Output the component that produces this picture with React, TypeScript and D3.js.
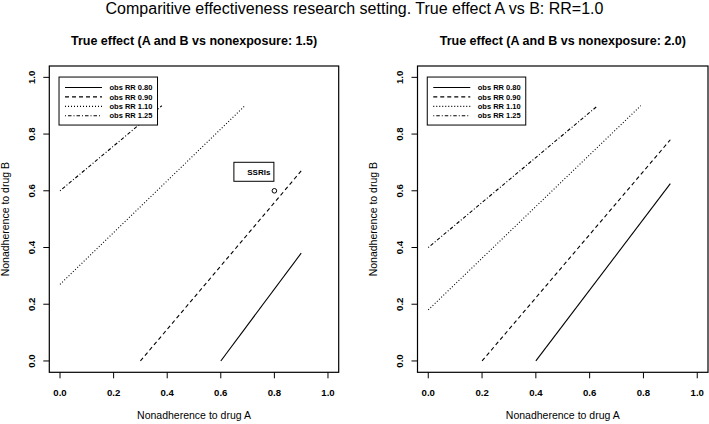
import React from "react";
import * as d3 from "d3";

const mainTitle = "Comparitive effectiveness research setting. True effect A vs B: RR=1.0";
const panelTitles = [
  "True effect (A and B vs nonexposure: 1.5)",
  "True effect (A and B vs nonexposure: 2.0)",
];
const xLabel = "Nonadherence to drug A";
const yLabel = "Nonadherence to drug B";
const seriesLabels = ["obs RR 0.80", "obs RR 0.90", "obs RR 1.10", "obs RR 1.25"];
const tickValues = [0, 0.2, 0.4, 0.6, 0.8, 1.0];

// Panel 1 (true effect 1.5): start/end x and y for each observed-RR contour
const p1X = [[0.6, 0.9], [0.3, 0.9], [0.0, 0.69], [0.0, 0.38]];
const p1Y = [[0.0, 0.38], [0.0, 0.67], [0.27, 0.9], [0.6, 0.9]];
// Panel 2 (true effect 2.0)
const p2X = [[0.4, 0.9], [0.2, 0.9], [0.0, 0.79], [0.0, 0.63]];
const p2Y = [[0.0, 0.625], [0.0, 0.78], [0.18, 0.9], [0.4, 0.9]];

// annotated point (panel 1)
const pointLabel = "SSRIs";
const pointX = 0.8;
const pointY = 0.6;

const dashes = [null, "4,3", "1,2", "1,2,3.5,2"];
const FONT = "'Liberation Sans', Arial, Helvetica, sans-serif";

type PanelProps = {
  left: number;
  right: number;
  title: string;
  xs: number[][];
  ys: number[][];
  annotate?: boolean;
};

function Panel({ left, right, title, xs, ys, annotate }: PanelProps) {
  const top = 66;
  const bottom = 372.3;
  const x = d3.scaleLinear().domain([-0.04, 1.04]).range([left, right]);
  const y = d3.scaleLinear().domain([-0.04, 1.04]).range([bottom, top]);
  const line = d3
    .line<[number, number]>()
    .x((d) => x(d[0]))
    .y((d) => y(d[1]));
  const cx = (left + right) / 2;
  const cy = (top + bottom) / 2;
  const legL = x(0) - 1;
  const legT = y(1) - 0.3;
  const legW = 98.5;
  const legH = 48;
  const rowY = (i: number) => legT + 10.4 + i * 9.45;
  return (
    <g>
      <text x={cx} y={45} textAnchor="middle" fontFamily={FONT} fontWeight="bold" fontSize={12.5}>
        {title}
      </text>
      {xs.map((xv, i) => (
        <path
          key={i}
          d={line(xv.map((v, j) => [v, ys[i][j]] as [number, number])) || ""}
          fill="none"
          stroke="#000"
          strokeWidth={1.1}
          strokeDasharray={dashes[i] || undefined}
        />
      ))}
      {annotate && (
        <g>
          <circle cx={x(pointX)} cy={y(pointY)} r={2.3} fill="none" stroke="#000" strokeWidth={1} />
          <rect
            x={x(pointX) - 40.5}
            y={y(pointY) - 28.5}
            width={40}
            height={19}
            fill="#fff"
            stroke="#000"
            strokeWidth={1}
          />
          <text
            x={x(pointX) - 4}
            y={y(pointY) - 16}
            textAnchor="end"
            fontFamily={FONT}
            fontWeight="bold"
            fontSize={8}
          >
            {pointLabel}
          </text>
        </g>
      )}
      <rect x={legL} y={legT} width={legW} height={legH} fill="#fff" stroke="#000" strokeWidth={1} />
      {seriesLabels.map((s, i) => (
        <g key={s}>
          <line
            x1={legL + 6}
            x2={legL + 43}
            y1={rowY(i)}
            y2={rowY(i)}
            stroke="#000"
            strokeWidth={1.1}
            strokeDasharray={dashes[i] || undefined}
          />
          <text x={legL + 50.5} y={rowY(i) + 2.7} fontFamily={FONT} fontWeight="bold" fontSize={7.5}>
            {s}
          </text>
        </g>
      ))}
      <rect x={left} y={top} width={right - left} height={bottom - top} fill="none" stroke="#000" strokeWidth={1.2} />
      {tickValues.map((t) => (
        <g key={"x" + t}>
          <line x1={x(t)} x2={x(t)} y1={bottom} y2={bottom + 6} stroke="#000" strokeWidth={1} />
          <text x={x(t)} y={395.5} textAnchor="middle" fontFamily={FONT} fontWeight="bold" fontSize={9.6}>
            {t.toFixed(1)}
          </text>
        </g>
      ))}
      {tickValues.map((t) => (
        <g key={"y" + t}>
          <line x1={left - 6} x2={left} y1={y(t)} y2={y(t)} stroke="#000" strokeWidth={1} />
          <text
            transform={`translate(${left - 14.5},${y(t)}) rotate(-90)`}
            textAnchor="middle"
            fontFamily={FONT}
            fontWeight="bold"
            fontSize={9.6}
          >
            {t.toFixed(1)}
          </text>
        </g>
      ))}
      <text x={cx} y={419} textAnchor="middle" fontFamily={FONT} fontSize={10.5}>
        {xLabel}
      </text>
      <text
        transform={`translate(${left - 40.5},${cy}) rotate(-90)`}
        textAnchor="middle"
        fontFamily={FONT}
        fontSize={10.5}
      >
        {yLabel}
      </text>
    </g>
  );
}

export default function App() {
  return (
    <svg
      width={709}
      height={424}
      viewBox="0 0 709 424"
      style={{ position: "absolute", left: 0, top: 0, background: "#fff" }}
    >
      <rect x={0} y={0} width={709} height={424} fill="#fff" />
      <text x={354.5} y={14} textAnchor="middle" fontFamily={FONT} fontSize={16}>
        {mainTitle}
      </text>
      <Panel left={49.3} right={338.7} title={panelTitles[0]} xs={p1X} ys={p1Y} annotate />
      <Panel left={417.5} right={708} title={panelTitles[1]} xs={p2X} ys={p2Y} />
    </svg>
  );
}
